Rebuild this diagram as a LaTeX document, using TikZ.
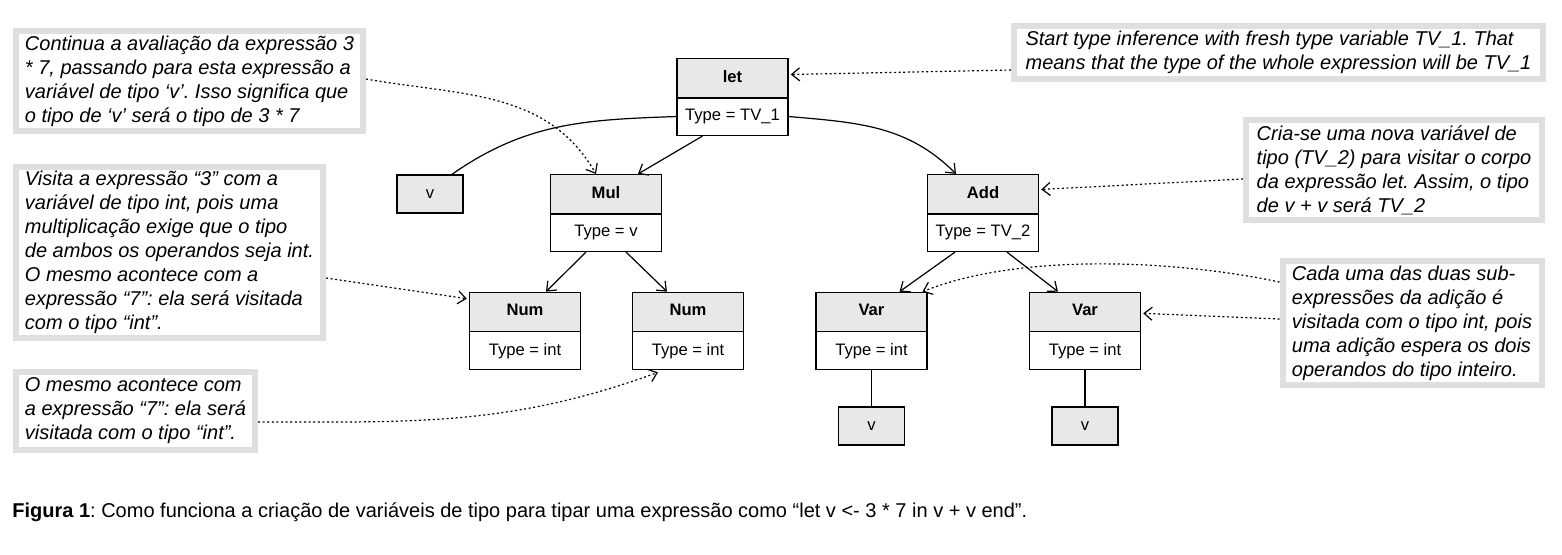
\documentclass[tikz,border=0pt]{standalone}
\usepackage{fontspec}
\setmainfont{Liberation Sans}
\usetikzlibrary{calc,shapes.multipart,arrows.meta}
\frenchspacing

\begin{document}
\begin{tikzpicture}[x=0.5pt, y=-0.5pt, >={Straight Barb[length=4pt,width=6.5pt]},
    tipo/.style={rectangle split, rectangle split parts=2, draw, line width=0.7pt, rectangle split part fill={gray!18,white}, minimum width=55.5pt, text height=6.2pt, text depth=2.3pt, inner ysep=5.25pt, font=\fontsize{8.3}{10}\selectfont},
    folha/.style={draw, line width=0.7pt, fill=gray!18, minimum width=33pt, minimum height=19pt, font=\fontsize{8.3}{10}\selectfont},
    nota/.style={draw=gray!25, line width=3pt, fill=white, align=left, inner sep=1pt, font=\fontsize{10}{12}\selectfont\itshape},
    aresta/.style={->, line width=0.6pt},
    seta/.style={->, line width=0.6pt, dash pattern=on 1pt off 1.3pt}]
            \useasboundingbox (0,0) rectangle (1562,554);
            % Nós
            \node[tipo] (let) at (732.5,97) {\textbf{let}\nodepart{two}Type = TV\_1};
            \node[folha] (vL) at (430,194) {v};
            \node[tipo] (mul) at (606,213) {\textbf{Mul}\nodepart{two}Type = v};
            \node[tipo] (add) at (983,213) {\textbf{Add}\nodepart{two}Type = TV\_2};
            \node[tipo] (num1) at (525,331) {\textbf{Num}\nodepart{two}Type = int};
            \node[tipo] (num2) at (688,331) {\textbf{Num}\nodepart{two}Type = int};
            \node[tipo] (var1) at (871.5,331) {\textbf{Var}\nodepart{two}Type = int};
            \node[tipo] (var2) at (1085,331) {\textbf{Var}\nodepart{two}Type = int};
            \node[folha] (v1) at (871.5,426) {v};
            \node[folha] (v2) at (1085,426) {v};
            % Notas
            \node[nota, minimum width=173.5pt, minimum height=50pt] (n1) at (189.5,81) {Continua a avaliação da expressão 3\\* 7, passando para esta expressão a\\variável de tipo ‘v’. Isso significa que\\o tipo de ‘v’ será o tipo de 3 * 7};
            \node[nota, minimum width=153.5pt, minimum height=85.5pt] (n2) at (169.5,252.5) {Visita a expressão “3” com a\\variável de tipo int, pois uma\\multiplicação exige que o tipo\\de ambos os operandos seja int.\\O mesmo acontece com a\\expressão “7”: ela será visitada\\com o tipo “int”.};
            \node[nota, minimum width=119.5pt, minimum height=39pt] (n3) at (135.5,411) {O mesmo acontece com\\a expressão “7”: ela será\\visitada com o tipo “int”.};
            \node[nota, minimum width=264.5pt, minimum height=26.5pt] (n4) at (1278.5,52.5) {Start type inference with fresh type variable TV\_1. That\\means that the type of the whole expression will be TV\_1};
            \node[nota, minimum width=148pt, minimum height=50pt] (n5) at (1394,170) {Cria-se uma nova variável de\\tipo (TV\_2) para visitar o corpo\\da expressão let. Assim, o tipo\\de v + v será TV\_2};
            \node[nota, minimum width=129.5pt, minimum height=62pt] (n6) at (1412,323) {Cada uma das duas sub-\\expressões da adição é\\visitada com o tipo int, pois\\uma adição espera os dois\\operandos do tipo inteiro.};
            % Legenda
            \node[anchor=base west, inner sep=0pt, font=\fontsize{10}{12}\selectfont] (leg) at (12,517) {\textbf{Figura 1}: Como funciona a criação de variáveis de tipo para tipar uma expressão como “let v <- 3 * 7 in v + v end”.};
            % Arestas
            \draw[line width=0.6pt] ($(let.west)!0.5!(let.south west)$) to[out=182,in=35] ($(vL.north)+(22,0)$);
            \draw[aresta] ($(let.south)+(-30,0)$) -- ($(mul.north)+(32,0)$);
            \draw[aresta] ($(let.east)!0.5!(let.south east)$) to[out=-5,in=135] ($(add.north)+(-27,0)$);
            \draw[aresta] ($(mul.south)+(-20,0)$) -- ($(num1.north)+(21,0)$);
            \draw[aresta] ($(mul.south)+(20,0)$) -- ($(num2.north)+(-21,0)$);
            \draw[aresta] ($(add.south)+(-28,0)$) -- ($(var1.north)+(28,0)$);
            \draw[aresta] ($(add.south)+(24,0)$) -- ($(var2.north)+(-27,0)$);
            \draw[line width=0.6pt] (var1.south) -- (v1.north);
            \draw[line width=0.6pt] (var2.south) -- (v2.north);
            % Setas das notas
            \draw[seta] ($(n1.east)+(0,-2)$) to[out=-10,in=120] ($(mul.north)+(-10,0)$);
            \draw[seta] ($(n2.east)+(0,25.5)$) -- ($(num1.north west)+(-2,7)$);
            \draw[seta] ($(n3.east)+(0,11)$) to[out=0,in=200] ($(num2.south)+(-30,2)$);
            \draw[seta] ($(n4.west)+(0,17.5)$) -- ($(let.north east)!0.5!(let.east)+(2,-3)$);
            \draw[seta] ($(n5.west)+(0,9)$) -- ($(add.north east)!0.5!(add.east)+(2,-4)$);
            \draw[seta] ($(n6.west)+(0,-4)$) -- ($(var2.north east)!0.5!(var2.east)+(2,2)$);
            \draw[seta] ($(n6.west)+(0,-41)$) to[out=168,in=22,looseness=0.75] ($(var1.north)+(51,0)$);
        \end{tikzpicture}
\end{document}
